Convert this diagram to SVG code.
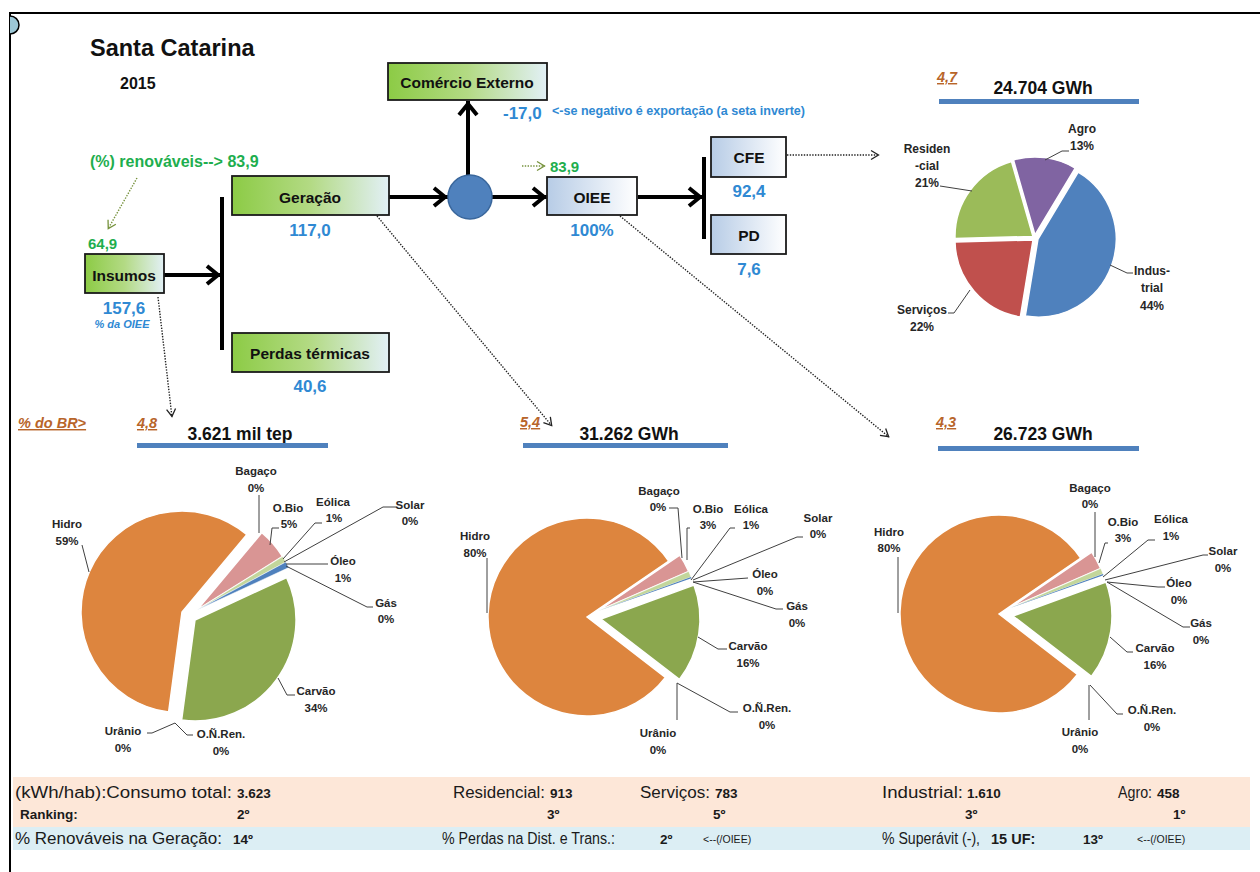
<svg xmlns="http://www.w3.org/2000/svg" width="1260" height="872" viewBox="0 0 1260 872">
<style>
text{font-family:"Liberation Sans",Arial,sans-serif}
.b{font-weight:bold}
.box{stroke:#1a1a1a;stroke-width:1.8}
.bt{font-weight:bold;font-size:15.5px;fill:#111;text-anchor:middle}
.val{font-weight:bold;font-size:17px;fill:#2F89D3;text-anchor:middle}
.grn{font-weight:bold;fill:#1EAE4E}
.brn{font-weight:bold;font-style:italic;font-size:14.5px;fill:#B8652A;text-decoration:underline}
.thick{stroke:#000;stroke-width:4;fill:none}
.dot{stroke:#222;stroke-width:1.4;fill:none;stroke-dasharray:1.4 1.4}
.gdot{stroke:#76923C;stroke-width:1.4;fill:none;stroke-dasharray:1.4 1.4}
.lead{stroke:#404040;stroke-width:1;fill:none}
.pl{font-weight:bold;font-size:11.5px;fill:#262626;text-anchor:middle}
.tpl{font-weight:bold;font-size:12px;fill:#262626;text-anchor:middle}
.sl{stroke:#fff;stroke-width:1.5}
.head{font-weight:bold;font-size:17.5px;fill:#111;text-anchor:middle}
.bar{fill:#4F81BD}
.row{font-size:16px;fill:#1a1a1a}
.rowb{font-weight:bold;font-size:13.5px;fill:#1a1a1a}
.sm{font-size:10.5px;fill:#1a1a1a}
</style>
<defs>
<linearGradient id="gg" x1="0" y1="0" x2="1" y2="0">
<stop offset="0" stop-color="#8CCB45"/><stop offset="0.5" stop-color="#B3DA84"/><stop offset="1" stop-color="#E2F0F6"/>
</linearGradient>
<linearGradient id="bg" x1="0" y1="0" x2="1" y2="0">
<stop offset="0" stop-color="#B7CCE6"/><stop offset="1" stop-color="#FFFFFF"/>
</linearGradient>
<marker id="ah" viewBox="-16 -12 17 24" markerWidth="17" markerHeight="24" refX="0" refY="0" orient="auto" markerUnits="userSpaceOnUse">
<path d="M-14,-9 L-3,0 L-14,9" fill="none" stroke="#000" stroke-width="4"/>
</marker>
<marker id="dh" viewBox="-10 -6 11 12" markerWidth="11" markerHeight="12" refX="0" refY="0" orient="auto" markerUnits="userSpaceOnUse">
<path d="M-8,-4.5 L-0.5,0 L-8,4.5" fill="none" stroke="#222" stroke-width="1.3"/>
</marker>
<marker id="gh" viewBox="-10 -6 11 12" markerWidth="11" markerHeight="12" refX="0" refY="0" orient="auto" markerUnits="userSpaceOnUse">
<path d="M-8,-4.5 L-0.5,0 L-8,4.5" fill="none" stroke="#76923C" stroke-width="1.3"/>
</marker>
</defs>
<rect width="1260" height="872" fill="#fff"/>
<g id="frame">
<path d="M10,872 V13 H1260" fill="none" stroke="#000" stroke-width="2"/>
<path d="M10,16 A8,8 0 0 1 10,34" fill="#9CC7D6" stroke="#000" stroke-width="1.5"/>
</g>
<g id="title">
<text x="90" y="56" class="b" font-size="23.5" fill="#111">Santa Catarina</text>
<text x="120" y="89" class="b" font-size="16" fill="#111">2015</text>
</g>

<g id="connectors">
<line x1="222" y1="197" x2="222" y2="350" class="thick"/>
<line x1="704" y1="157" x2="704" y2="239" class="thick"/>
<path d="M164,275 H221" class="thick" marker-end="url(#ah)"/>
<path d="M389,197 H448" class="thick" marker-end="url(#ah)"/>
<path d="M492,197 H547" class="thick" marker-end="url(#ah)"/>
<path d="M638,197 H703" class="thick" marker-end="url(#ah)"/>
<path d="M468,175 V101" class="thick" marker-end="url(#ah)"/>
<path d="M137,178 L108,229" class="gdot" marker-end="url(#gh)"/>
<path d="M522,166 H545" class="gdot" marker-end="url(#gh)"/>
<path d="M158,297 L172,417" class="dot" marker-end="url(#dh)"/>
<path d="M377,216 L552,426" class="dot" marker-end="url(#dh)"/>
<path d="M620,216 L889,437" class="dot" marker-end="url(#dh)"/>
<path d="M787,155 H879" class="dot" marker-end="url(#dh)"/>
</g>

<g id="renovaveis">
<text x="90" y="167" class="grn" font-size="16">(%) renováveis--&gt; 83,9</text>
</g>

<g id="insumos">
<rect x="85" y="254" width="79" height="39" fill="url(#gg)" class="box"/>
<text x="124" y="281" class="bt">Insumos</text>
<text x="88" y="249" class="grn" font-size="15">64,9</text>
<text x="124" y="314" class="val">157,6</text>
<text x="122" y="328" class="b" font-style="italic" font-size="11" fill="#2F89D3" text-anchor="middle">% da OIEE</text>
</g>

<g id="geracao">
<rect x="232" y="176" width="157" height="39" fill="url(#gg)" class="box"/>
<text x="310" y="203" class="bt">Geração</text>
<text x="310" y="236" class="val">117,0</text>
</g>

<g id="perdas">
<rect x="232" y="333" width="157" height="39" fill="url(#gg)" class="box"/>
<text x="310" y="359" class="bt">Perdas térmicas</text>
<text x="310" y="392" class="val">40,6</text>
</g>

<g id="comercio">
<rect x="388" y="63" width="159" height="37" fill="url(#gg)" class="box"/>
<text x="467" y="88" class="bt">Comércio Externo</text>
<text x="503" y="119" class="b" font-size="17" fill="#2F89D3">-17,0</text>
<text x="552" y="115" class="b" font-size="12" fill="#2F89D3" textLength="253" lengthAdjust="spacingAndGlyphs">&lt;-se negativo é exportação (a seta inverte)</text>
</g>

<g id="hub">
<circle cx="470" cy="197" r="22" fill="#4F81BD" stroke="#3A679C" stroke-width="1.5"/>
</g>

<g id="oiee">
<rect x="547" y="177" width="90" height="38" fill="url(#bg)" class="box"/>
<text x="592" y="203" class="bt">OIEE</text>
<text x="550" y="172" class="grn" font-size="15">83,9</text>
<text x="592" y="236" class="val">100%</text>
</g>

<g id="cfe">
<rect x="711" y="137" width="75" height="40" fill="url(#bg)" class="box"/>
<text x="749" y="163" class="bt">CFE</text>
<text x="749" y="197" class="val">92,4</text>
</g>

<g id="pd">
<rect x="711" y="215" width="75" height="39" fill="url(#bg)" class="box"/>
<text x="749" y="241" class="bt">PD</text>
<text x="749" y="275" class="val">7,6</text>
</g>

<g id="pie-consumo">
<text x="937" y="82" class="brn">4,7</text>
<text x="1043" y="94" class="head">24.704 GWh</text>
<rect x="939" y="99" width="200" height="5" class="bar"/>
<path d="M1035,235 L1013.5,160 A78,78 0 0 1 1075.2,168.1 Z" fill="#8064A2" class="sl"/>
<path d="M1038,239 L1078.2,172.1 A78,78 0 0 1 1025.3,316 Z" fill="#4F81BD" class="sl"/>
<path d="M1033,240 L1020.3,317 A78,78 0 0 1 955,241.9 Z" fill="#C0504D" class="sl"/>
<path d="M1033,236.5 L955,238.4 A78,78 0 0 1 1011.5,161.5 Z" fill="#9BBB59" class="sl"/>
<path d="M1045,160 L1062,151 H1069" class="lead"/>
<path d="M940,186 L972,191" class="lead"/>
<path d="M1110,265 L1127,273 H1133" class="lead"/>
<path d="M948,313 H954 L970,290" class="lead"/>
<text x="1082" y="133" class="tpl">Agro</text>
<text x="1082" y="150" class="tpl">13%</text>
<text x="927" y="153" class="tpl">Residen</text>
<text x="927" y="170" class="tpl">-cial</text>
<text x="927" y="187" class="tpl">21%</text>
<text x="1152" y="275" class="tpl">Indus-</text>
<text x="1152" y="292" class="tpl">trial</text>
<text x="1152" y="310" class="tpl">44%</text>
<text x="922" y="314" class="tpl">Serviços</text>
<text x="922" y="331" class="tpl">22%</text>
</g>

<g id="pie-insumos">
<text x="18" y="428" class="brn">% do BR&gt;</text>
<text x="137" y="428" class="brn">4,8</text>
<text x="240" y="440" class="head">3.621 mil tep</text>
<rect x="137" y="443" width="191" height="5" class="bar"/>
<path d="M182,612 L168.6,712.1 A101,101 0 1 1 246.9,534.6 Z" fill="#DD853E" class="sl"/>
<path d="M197,610 L261.9,532.6 A101,101 0 0 1 282.6,556.5 Z" fill="#D99594" class="sl"/>
<path d="M197,610 L282.6,556.5 A101,101 0 0 1 285.8,562 Z" fill="#C3D69B" stroke="#fff" stroke-width="0.5"/>
<path d="M197,610 L285.8,562 A101,101 0 0 1 288.7,567.6 Z" fill="#4F81BD" stroke="#fff" stroke-width="0.5"/>
<path d="M195,620 L286.7,577.6 A101,101 0 0 1 181.6,720.1 Z" fill="#8BA74E" class="sl"/>
<path d="M259,495 V533" class="lead"/>
<path d="M279,528 H272 L270,545" class="lead"/>
<path d="M322,523 H315 L283,559" class="lead"/>
<path d="M397,507 H383 L284,562" class="lead"/>
<path d="M328,564 H286" class="lead"/>
<path d="M373,607 H367 L286,566" class="lead"/>
<path d="M295,695 H287 L278,678" class="lead"/>
<path d="M147,733 H152 L175,723" class="lead"/>
<path d="M193,735 H187 L175,723" class="lead"/>
<path d="M82,545 L89,572" class="lead"/>
<text x="256" y="475" class="pl">Bagaço</text>
<text x="256" y="492" class="pl">0%</text>
<text x="288" y="512" class="pl">O.Bio</text>
<text x="289" y="528" class="pl">5%</text>
<text x="333" y="506" class="pl">Eólica</text>
<text x="334" y="522" class="pl">1%</text>
<text x="410" y="509" class="pl">Solar</text>
<text x="410" y="525" class="pl">0%</text>
<text x="343" y="565" class="pl">Óleo</text>
<text x="343" y="582" class="pl">1%</text>
<text x="386" y="607" class="pl">Gás</text>
<text x="386" y="623" class="pl">0%</text>
<text x="316" y="695" class="pl">Carvão</text>
<text x="316" y="712" class="pl">34%</text>
<text x="123" y="735" class="pl">Urânio</text>
<text x="123" y="752" class="pl">0%</text>
<text x="221" y="738" class="pl">O.Ñ.Ren.</text>
<text x="221" y="755" class="pl">0%</text>
<text x="67" y="528" class="pl">Hidro</text>
<text x="67" y="545" class="pl">59%</text>
</g>

<g id="pie-geracao">
<text x="520" y="427" class="brn">5,4</text>
<text x="629" y="440" class="head">31.262 GWh</text>
<rect x="523" y="443" width="205" height="5" class="bar"/>
<path d="M587,617 L665.4,677.4 A99,99 0 1 1 668.7,561.1 Z" fill="#DD853E" class="sl"/>
<path d="M598,611 L679.7,555.1 A99,99 0 0 1 688.7,571.4 Z" fill="#D99594" class="sl"/>
<path d="M598,611 L688.7,571.4 A99,99 0 0 1 691,577.1 Z" fill="#C3D69B" stroke="#fff" stroke-width="0.5"/>
<path d="M598,611 L691,577.1 A99,99 0 0 1 691.4,578.3 Z" fill="#4F81BD"/>
<path d="M601,619 L694,585.1 A99,99 0 0 1 679.4,679.4 Z" fill="#8BA74E" class="sl"/>
<path d="M669,508 H678 L682,558" class="lead"/>
<path d="M690,528 H687 V560" class="lead"/>
<path d="M735,528 H730 L691,580" class="lead"/>
<path d="M803,537 H797 L693,580" class="lead"/>
<path d="M748,578 L693,582" class="lead"/>
<path d="M783,609 H776 L693,582" class="lead"/>
<path d="M727,649 H718 L698,637" class="lead"/>
<path d="M738,712 H730 L677,683" class="lead"/>
<path d="M677,720 V683" class="lead"/>
<path d="M487,558 V613" class="lead"/>
<text x="659" y="495" class="pl">Bagaço</text>
<text x="658" y="511" class="pl">0%</text>
<text x="708" y="513" class="pl">O.Bio</text>
<text x="708" y="529" class="pl">3%</text>
<text x="751" y="513" class="pl">Eólica</text>
<text x="751" y="529" class="pl">1%</text>
<text x="818" y="522" class="pl">Solar</text>
<text x="818" y="538" class="pl">0%</text>
<text x="765" y="578" class="pl">Óleo</text>
<text x="765" y="595" class="pl">0%</text>
<text x="797" y="610" class="pl">Gás</text>
<text x="797" y="627" class="pl">0%</text>
<text x="748" y="650" class="pl">Carvão</text>
<text x="748" y="667" class="pl">16%</text>
<text x="767" y="712" class="pl">O.Ñ.Ren.</text>
<text x="767" y="729" class="pl">0%</text>
<text x="658" y="737" class="pl">Urânio</text>
<text x="658" y="754" class="pl">0%</text>
<text x="475" y="540" class="pl">Hidro</text>
<text x="475" y="557" class="pl">80%</text>
</g>

<g id="pie-oiee">
<text x="936" y="427" class="brn">4,3</text>
<text x="1043" y="440" class="head">26.723 GWh</text>
<rect x="938" y="446" width="201" height="5" class="bar"/>
<path d="M999,614 L1077.4,674.4 A99,99 0 1 1 1080.7,558.1 Z" fill="#DD853E" class="sl"/>
<path d="M1010,608 L1091.7,552.1 A99,99 0 0 1 1100.7,568.4 Z" fill="#D99594" class="sl"/>
<path d="M1010,608 L1100.7,568.4 A99,99 0 0 1 1103,574.1 Z" fill="#C3D69B" stroke="#fff" stroke-width="0.5"/>
<path d="M1010,608 L1103,574.1 A99,99 0 0 1 1103.4,575.3 Z" fill="#4F81BD"/>
<path d="M1013,616 L1106,582.1 A99,99 0 0 1 1091.4,676.4 Z" fill="#8BA74E" class="sl"/>
<path d="M1095,512 V557" class="lead"/>
<path d="M1108,543 H1105 L1099,563" class="lead"/>
<path d="M1155,540 H1148 L1103,577" class="lead"/>
<path d="M1208,555 H1203 L1105,580" class="lead"/>
<path d="M1165,587 H1158 L1107,582" class="lead"/>
<path d="M1190,627 H1183 L1107,582" class="lead"/>
<path d="M1133,652 H1127 L1110,637" class="lead"/>
<path d="M1123,714 H1117 L1090,685" class="lead"/>
<path d="M1089,720 V685" class="lead"/>
<path d="M898,557 V613" class="lead"/>
<text x="1090" y="492" class="pl">Bagaço</text>
<text x="1090" y="508" class="pl">0%</text>
<text x="1123" y="526" class="pl">O.Bio</text>
<text x="1123" y="542" class="pl">3%</text>
<text x="1171" y="523" class="pl">Eólica</text>
<text x="1171" y="540" class="pl">1%</text>
<text x="1223" y="555" class="pl">Solar</text>
<text x="1223" y="572" class="pl">0%</text>
<text x="1179" y="587" class="pl">Óleo</text>
<text x="1179" y="604" class="pl">0%</text>
<text x="1201" y="627" class="pl">Gás</text>
<text x="1201" y="644" class="pl">0%</text>
<text x="1155" y="652" class="pl">Carvão</text>
<text x="1155" y="669" class="pl">16%</text>
<text x="1152" y="714" class="pl">O.Ñ.Ren.</text>
<text x="1152" y="731" class="pl">0%</text>
<text x="1080" y="736" class="pl">Urânio</text>
<text x="1080" y="753" class="pl">0%</text>
<text x="889" y="536" class="pl">Hidro</text>
<text x="889" y="552" class="pl">80%</text>
</g>

<g id="table">
<rect x="13" y="777" width="1237" height="50" fill="#FDE7D8"/>
<rect x="13" y="827" width="1237" height="23" fill="#DCEEF4"/>
<text x="15" y="798" class="row" textLength="217" lengthAdjust="spacingAndGlyphs">(kWh/hab):Consumo total:</text>
<text x="237" y="798" class="rowb">3.623</text>
<text x="453" y="798" class="row" textLength="92" lengthAdjust="spacingAndGlyphs">Residencial:</text>
<text x="550" y="798" class="rowb">913</text>
<text x="640" y="798" class="row" textLength="70" lengthAdjust="spacingAndGlyphs">Serviços:</text>
<text x="715" y="798" class="rowb">783</text>
<text x="882" y="798" class="row" textLength="81" lengthAdjust="spacingAndGlyphs">Industrial:</text>
<text x="967" y="798" class="rowb">1.610</text>
<text x="1118" y="798" class="row" textLength="34" lengthAdjust="spacingAndGlyphs">Agro:</text>
<text x="1157" y="798" class="rowb">458</text>
<text x="20" y="819" class="rowb">Ranking:</text>
<text x="237" y="819" class="rowb">2º</text>
<text x="547" y="819" class="rowb">3º</text>
<text x="713" y="819" class="rowb">5º</text>
<text x="965" y="819" class="rowb">3º</text>
<text x="1173" y="819" class="rowb">1º</text>
<text x="15" y="844" class="row" textLength="207" lengthAdjust="spacingAndGlyphs">% Renováveis na Geração:</text>
<text x="233" y="844" class="rowb">14º</text>
<text x="442" y="844" class="row" textLength="173" lengthAdjust="spacingAndGlyphs">% Perdas na Dist. e Trans.:</text>
<text x="660" y="844" class="rowb">2º</text>
<text x="703" y="843" class="sm">&lt;--(/OIEE)</text>
<text x="882" y="844" class="row" textLength="98" lengthAdjust="spacingAndGlyphs">% Superávit (-),</text>
<text x="991" y="844" class="b" font-size="14.5" fill="#1a1a1a">15 UF:</text>
<text x="1083" y="844" class="rowb">13º</text>
<text x="1137" y="843" class="sm">&lt;--(/OIEE)</text>
</g>
</svg>
